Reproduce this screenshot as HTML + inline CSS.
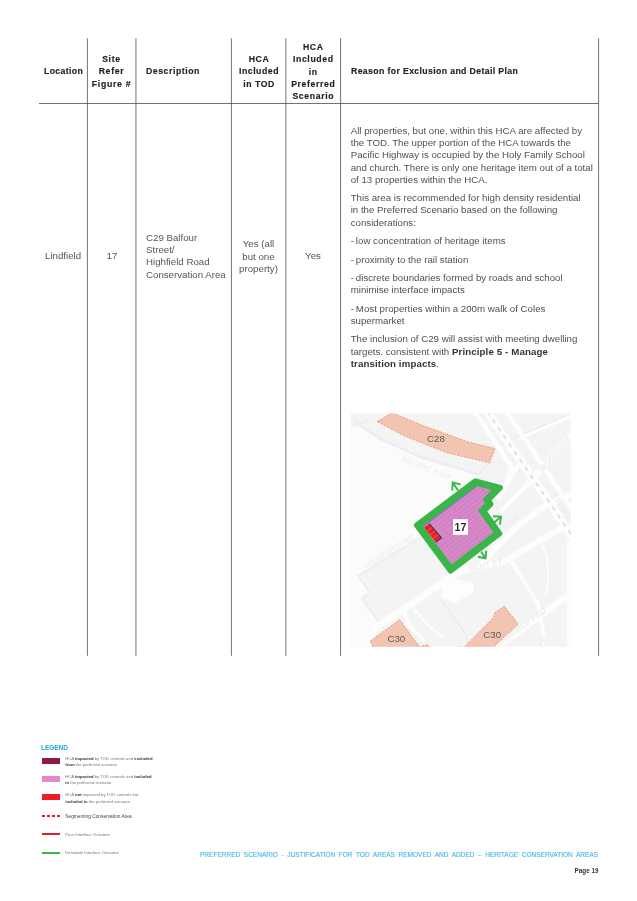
<!DOCTYPE html>
<html lang="en">
<head>
<meta charset="utf-8">
<title>Preferred Scenario - Heritage Conservation Areas - Page 19</title>
<style>
*{box-sizing:border-box;margin:0;padding:0}
html,body{width:637px;height:901px;background:#fff;overflow:hidden}
body{position:relative;font-family:"Liberation Sans",Arial,sans-serif;color:#4d4d4d}
#page{position:absolute;left:0;top:0;width:637px;height:901px;will-change:transform}
.th{position:absolute;font-weight:bold;font-size:8.7px;line-height:12.25px;letter-spacing:.7px;color:#222;white-space:nowrap;-webkit-text-stroke:.15px #222;margin-top:.15px}
.th.c{text-align:center}
.td{position:absolute;font-size:9.7px;line-height:12.2px;color:#555;white-space:nowrap}
.td.c{text-align:center}
.reason{position:absolute;left:350.7px;top:124.75px;width:245px;font-size:9.7px;line-height:12.25px;color:#505050;white-space:nowrap}
.reason p{margin-bottom:6.19px}
.reason b{color:#333;letter-spacing:.12px}
.lg-title{position:absolute;left:41px;top:743.5px;font-size:6.5px;line-height:7.5px;font-weight:bold;color:#1ea7d6;letter-spacing:-.05px;white-space:nowrap}
.sw{position:absolute;left:42.2px;width:17.7px}
.lt{position:absolute;left:65.3px;font-size:4.22px;line-height:6.5px;color:#777;white-space:nowrap}
.lt.seg{font-size:4.8px;color:#444;line-height:6.5px}
.lt b{color:#333}
.foot{position:absolute;left:200px;top:849.8px;font-size:7.5px;line-height:9px;color:#45b5e3;white-space:nowrap;word-spacing:2px;transform:scaleX(.87);transform-origin:0 0;-webkit-text-stroke:.12px #45b5e3}
.pg{position:absolute;left:574.6px;top:867px;font-size:6.3px;line-height:7.5px;font-weight:bold;color:#333;white-space:nowrap}
</style>
</head>
<body>
<div id="page">

<!-- table rules -->
<svg style="position:absolute;left:0;top:0" width="637" height="700" viewBox="0 0 637 700"><g stroke="#585858" stroke-width=".85" fill="none"><line x1="87.4" y1="38.3" x2="87.4" y2="655.8"/><line x1="135.95" y1="38.3" x2="135.95" y2="655.8"/><line x1="231.4" y1="38.3" x2="231.4" y2="655.8"/><line x1="285.9" y1="38.3" x2="285.9" y2="655.8"/><line x1="340.6" y1="38.3" x2="340.6" y2="655.8"/><line x1="598.6" y1="38.3" x2="598.6" y2="655.8"/><line x1="39" y1="103.5" x2="598.6" y2="103.5"/></g></svg>

<!-- header -->
<div class="th" style="left:44px;top:65px;letter-spacing:.38px">Location</div>
<div class="th c" style="left:88px;width:47px;top:53px">Site<br>Refer<br>Figure #</div>
<div class="th" style="left:146px;top:65px;letter-spacing:.56px">Description</div>
<div class="th c" style="left:232.5px;width:53px;top:53px;letter-spacing:.55px">HCA<br>Included<br>in TOD</div>
<div class="th c" style="left:286.3px;width:54px;top:41px;letter-spacing:.62px">HCA<br>Included<br>in<br>Preferred<br>Scenario</div>
<div class="th" style="left:351px;top:65px;letter-spacing:.38px">Reason for Exclusion and Detail Plan</div>

<!-- body row -->
<div class="td" style="left:45px;top:249.9px">Lindfield</div>
<div class="td c" style="left:88.5px;width:47px;top:249.9px">17</div>
<div class="td" style="left:146px;top:232px">C29 Balfour<br>Street/<br>Highfield Road<br>Conservation Area</div>
<div class="td c" style="left:232px;width:53px;top:238.3px">Yes (all<br>but one<br>property)</div>
<div class="td c" style="left:286px;width:54px;top:250.3px">Yes</div>

<div class="reason">
<p>All properties, but one, within this HCA are affected by<br>the TOD. The upper portion of the HCA towards the<br>Pacific Highway is occupied by the Holy Family School<br>and church. There is only one heritage item out of a total<br>of 13 properties within the HCA.</p>
<p>This area is recommended for high density residential<br>in the Preferred Scenario based on the following<br>considerations:</p>
<p>-&#8201;low concentration of heritage items</p>
<p>-&#8201;proximity to the rail station</p>
<p>-&#8201;discrete boundaries formed by roads and school<br>minimise interface impacts</p>
<p>-&#8201;Most properties within a 200m walk of Coles<br>supermarket</p>
<p>The inclusion of C29 will assist with meeting dwelling<br>targets. consistent with <b>Principle 5 - Manage<br>transition impacts</b>.</p>
</div>

<!-- MAP -->
<svg id="map" style="position:absolute;left:0;top:0" width="637" height="901" viewBox="0 0 637 901">
<defs>
<clipPath id="mc"><rect x="350.6" y="413.6" width="220.4" height="233.2"/></clipPath>
<clipPath id="pk"><polygon points="423,526.1 476.5,486 491.6,490 482.6,499.2 485,503.4 477.9,510.5 493.3,532.6 451.5,564.5"/></clipPath>
<pattern id="hsal" width="3" height="3" patternUnits="userSpaceOnUse" patternTransform="rotate(-62)"><rect width="3" height="3" fill="#f1c2ad"/><rect width="3" height=".7" fill="#f4ccbb"/></pattern>
</defs>
<g clip-path="url(#mc)">
<rect x="350" y="413" width="222" height="235" fill="#f4f4f4"/>
<!-- roads -->
<polygon points="350,426.5 362,426.8 382.7,440 420.4,457 465,470.2 478.5,475 476,482 416,525 418.5,538.4 358.2,576 369.5,592 362,598.6 379.9,623.1 368.5,633.5 370.4,641 371,648 350,648" fill="#fbfbfb"/>
<g fill="none" stroke="#ecebf7" stroke-linejoin="round">
<polyline points="355,421.5 362,426.8 382.7,440 420.4,457 465,470.2 478.5,474.5" stroke-width="2.4"/>
<polyline points="418.5,538.4 358.2,576 369.5,592 362,598.6 379.9,623.1 368.5,633.5 370.4,641" stroke-width="2"/>
</g>
<polyline points="351,427 367.6,420.2" fill="none" stroke="#fbe3d6" stroke-width="1"/>
<g fill="none" stroke="#e2e2e2" stroke-width=".8">
<line x1="494" y1="446.6" x2="571" y2="413.8"/>
<polyline points="489.9,462.6 478.5,474.9"/>
<polyline points="441,599.6 465,633.5 470,648"/>
</g>
<g fill="none" stroke="#fdfdfd" stroke-linecap="butt" stroke-linejoin="round">
<!-- rail corridor and parallels -->
<line x1="484.6" y1="408" x2="576" y2="541.6" stroke-width="8"/>
<polyline points="472,408 497,445 512,468 507,482 500,497" stroke-width="4.5"/>
<line x1="504" y1="408" x2="575" y2="514" stroke-width="4.5"/>
<line x1="520" y1="438" x2="575" y2="414.5" stroke-width="3.5"/>
<line x1="527" y1="485" x2="575" y2="431" stroke-width="6.5"/>
<polyline points="497,500 509,480 519,464" stroke-width="4"/>
<polyline points="500,512 527,485" stroke-width="4"/>
<!-- street right of block 17 -->
<polyline points="478,569 495,548 520,524 545,506 575,492" stroke-width="6"/>
<!-- Bent St -->
<polyline points="452,576 466.3,569.5 505.9,561 539.8,540.3 575,521" stroke-width="6"/>
<polyline points="511.5,562 537.9,603.4 543.5,633.5 545.4,650" stroke-width="3.8"/>
<polyline points="539.8,541.2 547.3,556.3 548,584.5 545.4,595.8" stroke-width="1.8"/>
<!-- Beaconsfield Pde -->
<polyline points="493,650 556.7,603.9 575,591" stroke-width="6.6"/>
<!-- lower-left roads -->
<polyline points="366,640 380.8,624 407.2,607 443,582.6 455,574" stroke-width="6.6"/>
<polyline points="403.5,610 409,625 424,641" stroke-width="4"/>
<polyline points="413,608 428,625 443,637" stroke-width="2.2"/>
<polygon points="443,577 473.8,582.6 473.8,592 455,603 441,598" fill="#fdfdfd" stroke="none"/>
</g>
<line x1="487.2" y1="411.6" x2="572.3" y2="536" fill="none" stroke="#dedede" stroke-width="1.9" stroke-dasharray="4.5 5.1"/>
<polygon points="460,645 466,648 455,648" fill="#fbe3e3"/>
<rect x="566.5" y="541" width="6" height="108" fill="#fcfcfc"/>
<g font-family="Liberation Sans, Arial, sans-serif" font-weight="bold" font-size="7.8" fill="#ededed" letter-spacing=".2">
<text transform="translate(400.6,461) rotate(21)" fill="#f0f0f0">PACIFIC HWY</text>
<text transform="translate(366.5,569) rotate(-32)" fill="#f0f0f0">HIGHFIELD RD</text>
<text transform="translate(469,571) rotate(-12)">BENT ST</text>
<text transform="translate(498,647) rotate(-36)">ONSFIELD PRD</text>
<text transform="translate(542.5,472.5) rotate(-49)">WOODSIDE</text>
<text transform="translate(552,496) rotate(58)">LINDFIELD</text>
<text transform="translate(505,530) rotate(-38)">R ST</text>
<text transform="translate(545,648) rotate(-80)">CR</text>
</g>
<!-- conservation areas -->
<g fill="url(#hsal)" stroke="#f08c5f" stroke-width=".8" stroke-dasharray="2.2 1.4">
<polygon points="377.3,421.5 392,412.8 424.8,426.3 467.2,441.6 495,448.6 489.6,462.8 446,452.6 403.6,435.6"/>
<polygon points="370.4,641 399.6,619.7 419.4,646.6 427.9,644.8 430.5,648 373.5,648"/>
<polygon points="463.4,648 493.6,617.5 494.6,612.8 504.4,606.2 518.1,624.1 492.6,648"/>
</g>
<g font-size="9.7" fill="#5a5a5a" font-family="Liberation Sans, Arial, sans-serif">
<text x="427" y="441.9">C28</text>
<text x="387.4" y="642">C30</text>
<text x="483.3" y="638.2">C30</text>
</g>
<!-- site 17 -->
<polygon points="416.7,525.2 475.5,481.1 500.2,487.6 488.2,499.9 490.6,504.2 483.7,511.0 499.5,533.6 450.6,570.8" fill="#39b54a" stroke="#39b54a" stroke-width="5.6" stroke-linejoin="round"/>
<polygon points="423,526.1 476.5,486 491.6,490 482.6,499.2 485,503.4 477.9,510.5 493.3,532.6 451.5,564.5" fill="#dc86c6"/>
<g clip-path="url(#pk)">
<g stroke="#9b7ccc" stroke-width=".5" id="hatch"><line x1="417.3" y1="535.1" x2="501.3" y2="472.1"/><line x1="419.6" y1="538.2" x2="503.6" y2="475.2"/><line x1="421.8" y1="541.2" x2="505.8" y2="478.2"/><line x1="424.1" y1="544.3" x2="508.1" y2="481.3"/><line x1="426.4" y1="547.3" x2="510.4" y2="484.3"/><line x1="428.7" y1="550.3" x2="512.7" y2="487.3"/><line x1="431.0" y1="553.4" x2="515.0" y2="490.4"/><line x1="433.2" y1="556.4" x2="517.2" y2="493.4"/><line x1="435.5" y1="559.5" x2="519.5" y2="496.5"/><line x1="437.8" y1="562.5" x2="521.8" y2="499.5"/><line x1="440.1" y1="565.5" x2="524.1" y2="502.5"/><line x1="442.4" y1="568.6" x2="526.4" y2="505.6"/><line x1="444.6" y1="571.6" x2="528.6" y2="508.6"/><line x1="446.9" y1="574.7" x2="530.9" y2="511.7"/><line x1="449.2" y1="577.7" x2="533.2" y2="514.7"/></g><line x1="434.2" y1="517.7" x2="476.2" y2="573.7" stroke="#b08ab8" stroke-width=".5"/><line x1="443.0" y1="511.1" x2="485.0" y2="567.1" stroke="#b08ab8" stroke-width=".5"/><line x1="451.8" y1="504.5" x2="493.8" y2="560.5" stroke="#b08ab8" stroke-width=".5"/><line x1="460.6" y1="497.9" x2="502.6" y2="553.9" stroke="#b08ab8" stroke-width=".5"/><line x1="469.4" y1="491.3" x2="511.4" y2="547.3" stroke="#b08ab8" stroke-width=".5"/><line x1="479.0" y1="484.1" x2="521.0" y2="540.1" stroke="#b08ab8" stroke-width=".5"/>
<line x1="423" y1="526.1" x2="476.5" y2="486" stroke="#8a6cd0" stroke-width="2"/>
<polygon points="424.1,527.7 429.2,523.7 441.4,537.9 435.9,542.2" fill="#ee1c24"/><line x1="427.1" y1="531.3" x2="432.2" y2="527.2" stroke="#f08a96" stroke-width=".6"/><line x1="430.0" y1="535.0" x2="435.3" y2="530.8" stroke="#f08a96" stroke-width=".6"/><line x1="432.9" y1="538.6" x2="438.3" y2="534.4" stroke="#f08a96" stroke-width=".6"/>
<polyline points="429.2,523.7 441.4,537.9 435.9,542.2" fill="none" stroke="#444" stroke-width="1.3"/>
</g>
<rect x="453" y="519.2" width="15" height="15.6" fill="#fff"/>
<text x="460.5" y="531" text-anchor="middle" font-size="10.6" font-weight="bold" fill="#2b2b2b" font-family="Liberation Sans, Arial, sans-serif">17</text>
<!-- arrows -->
<g fill="none" stroke="#39b54a" stroke-width="1.9">
<path d="M458,490.5 L452.7,482.5 M452.2,490.5 L452.7,482.5 L460.7,484.4"/>
<path d="M493.9,522.7 L501,516.6 M493,516.3 L501,516.6 L500,524.6"/>
<path d="M481.2,551.8 L485.6,558.4 M477.9,556.8 L485.6,558.4 L486.2,550.7"/>
</g>
</g>
</svg>

<!-- legend -->
<div class="lg-title">LEGEND</div>
<div class="sw" style="top:758px;height:5.7px;background:#8e1a44"></div>
<div class="lt" id="l1" style="top:755.5px">HCA <b>impacted</b> by TOD controls and <b>excluded</b><br><b>from</b> the preferred scenario</div>
<div class="sw" style="top:776.2px;height:5.9px;background:#e088c8"></div>
<div class="lt" id="l2" style="top:773.8px">HCA <b>impacted</b> by TOD controls and <b>included</b><br><b>in</b> the preferred scenario</div>
<div class="sw" style="top:794.3px;height:5.9px;background:#ee1c24"></div>
<div class="lt" id="l3" style="top:792.1px">HCA <b>not</b> impacted by TOD controls but<br><b>included in</b> the preferred scenario</div>
<div class="sw" style="top:815.4px;height:2px;background:repeating-linear-gradient(90deg,#ee1c24 0 2.8px,transparent 2.8px 4.9px)"></div>
<div class="lt seg" id="l4" style="top:814.3px">Segmenting Conservation Area</div>
<div class="sw" style="top:833.4px;height:2px;background:#e0202a"></div>
<div class="lt" id="l5" style="top:831.8px">Poor Interface Outcome</div>
<div class="sw" style="top:851.5px;height:2px;background:#39b54a"></div>
<div class="lt" id="l6" style="top:850.1px">Desirable Interface Outcome</div>

<div class="foot">PREFERRED SCENARIO - JUSTIFICATION FOR TOD AREAS REMOVED AND ADDED – HERITAGE CONSERVATION AREAS</div>
<div class="pg">Page 19</div>

</div>
</body>
</html>
